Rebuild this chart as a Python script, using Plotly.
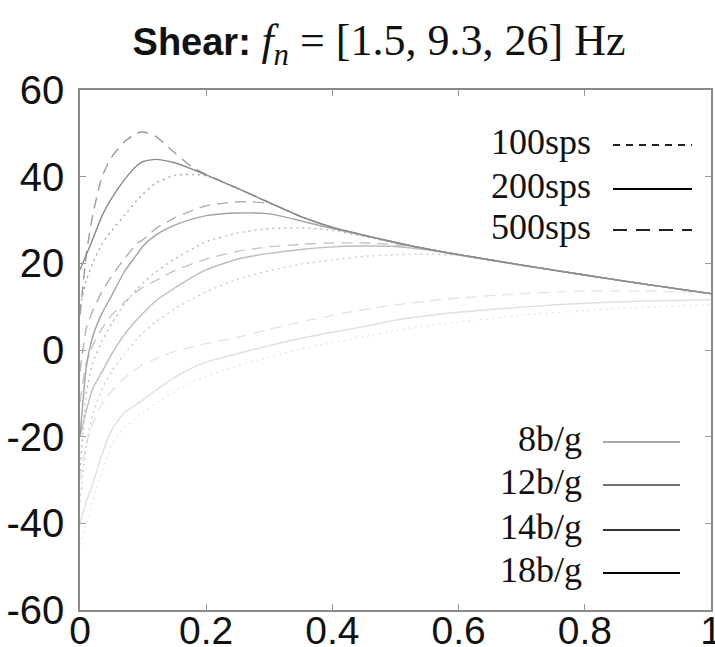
import plotly.graph_objects as go

# ---------------- data ----------------
X = [0, 0.01, 0.02, 0.035, 0.05, 0.07, 0.09, 0.1, 0.12, 0.15, 0.18, 0.2,
     0.25, 0.3, 0.35, 0.4, 0.45, 0.5, 0.55, 0.6, 0.7, 0.8, 0.9, 1.0]

# 18b/g
A_500 = [8, 22, 31, 40, 44.5, 48, 50, 50.3, 49.3, 45.5, 42, 40.5, 37.3, 34, 30.8, 28.3, 26.5, 24.8, 23.3, 22, 19.6, 17.3, 15.1, 13]
A_200 = [18.5, 22, 25.5, 31, 35, 39.2, 42.5, 43.5, 44, 43.2, 41.6, 40.4, 37.3, 34, 30.8, 28.3, 26.5, 24.8, 23.3, 22, 19.6, 17.3, 15.1, 13]
A_100 = [10, 16, 20, 24.5, 27.5, 31, 34.5, 36, 38.5, 40.3, 40.5, 40.2, 37.2, 34, 30.8, 28.3, 26.5, 24.8, 23.3, 22, 19.6, 17.3, 15.1, 13]
# 14b/g
B_500 = [-5, 5, 9, 13.5, 17, 21, 24.5, 25.5, 28, 30.5, 32.3, 33.3, 34.2, 33.8, 30.8, 28.3, 26.5, 24.8, 23.3, 22, 19.6, 17.3, 15.1, 13]
B_200 = [-20, -4, 3, 8.5, 12.5, 18, 22, 24, 26.5, 28.8, 30.3, 31, 31.6, 31.4, 29.8, 28, 26.4, 24.8, 23.3, 22, 19.6, 17.3, 15.1, 13]
B_100 = [-28, -10, -3, 2, 6, 10.5, 14, 15.5, 18, 21, 23.5, 25, 27, 28, 28.2, 27.6, 26.2, 24.7, 23.3, 22, 19.6, 17.3, 15.1, 13]
# 12b/g
C_500 = [-12, -3, 1, 5, 8, 11, 13.5, 14.5, 16, 18.3, 20, 21, 22.8, 23.8, 24.4, 24.7, 24.7, 24.3, 23.2, 22, 19.6, 17.3, 15.1, 13]
C_200 = [-20, -14, -9, -5, -1, 3.5, 7, 8.5, 11.3, 14.3, 17, 18.5, 21, 22.3, 23.2, 23.8, 24, 23.9, 23.1, 21.9, 19.6, 17.3, 15.1, 13]
C_100 = [-35, -22, -15, -9, -5, -1, 2.5, 4, 6.5, 9.5, 12, 13.5, 16.3, 18.3, 19.8, 20.8, 21.6, 22, 22.1, 21.8, 19.5, 17.3, 15.1, 13]
# 8b/g
D_500 = [-30, -22, -17, -12.5, -9.5, -6.5, -4.3, -3.4, -2, -0.3, 0.8, 1.5, 2.9, 4.8, 6.5, 8, 9.3, 10.4, 11.3, 12, 13, 13.6, 13.6, 13.1]
D_200 = [-40, -35, -31, -24, -18.5, -14.5, -12.5, -11.5, -9.3, -6.3, -4, -2.8, -0.8, 1, 2.7, 4.1, 5.4, 6.9, 7.9, 8.7, 9.9, 10.8, 11.3, 11.6]
D_100 = [-45, -40, -35, -28, -22, -18, -15.5, -14.5, -12.3, -9.5, -7.3, -6, -3.6, -1.6, 0.2, 1.7, 3.1, 4.5, 5.6, 6.5, 8, 9.1, 9.9, 10.4]

RATES = ["100sps", "200sps", "500sps"]
BITS = ["8b/g", "12b/g", "14b/g", "18b/g"]
X_TICKS = [0, 0.2, 0.4, 0.6, 0.8, 1]
X_TICK_LABELS = ["0", "0.2", "0.4", "0.6", "0.8", "1"]
Y_TICKS = [-60, -40, -20, 0, 20, 40, 60]
Y_TICK_LABELS = ["-60", "-40", "-20", "0", "20", "40", "60"]

# ---------------- styles ----------------
DASH = {"100sps": "2px,4px", "200sps": "solid", "500sps": "11px,7px"}
CURVE_COL = {"8b/g": "#d9d9d9", "12b/g": "#bdbdbd", "14b/g": "#a3a3a3", "18b/g": "#8a8a8a"}
RATE_FADE = {"100sps": 0.75, "200sps": 1.0, "500sps": 0.85}
LEG_COL = {"8b/g": "#a8a8a8", "12b/g": "#707070", "14b/g": "#333333", "18b/g": "#000000"}

series = {
    "8b/g": {"100sps": D_100, "200sps": D_200, "500sps": D_500},
    "12b/g": {"100sps": C_100, "200sps": C_200, "500sps": C_500},
    "14b/g": {"100sps": B_100, "200sps": B_200, "500sps": B_500},
    "18b/g": {"100sps": A_100, "200sps": A_200, "500sps": A_500},
}

fig = go.Figure()
for r in ["100sps", "500sps", "200sps"]:
    for b in BITS:
        fig.add_trace(go.Scatter(
            x=X, y=series[b][r], mode="lines", name=f"{b} {r}",
            opacity=RATE_FADE[r] if b != "8b/g" else RATE_FADE[r] * 0.8,
            line=dict(color=CURVE_COL[b], width=1.4, dash=DASH[r], shape="spline", smoothing=0.6),
            showlegend=False, hoverinfo="skip"))

# ---------------- layout ----------------
W, H = 715, 647
L, R, T, B = 80, 4, 90, 37


def xp(px):
    return (px - L) / (W - L - R)


def yp(py):
    return (H - B - py) / (H - T - B)


serif = "Liberation Serif, Times New Roman, serif"
sans = "Liberation Sans, Arial, sans-serif"

annotations = []
shapes = []
top_leg = [("100sps", 145, "7px,6px", "#222"), ("200sps", 189, "solid", "#000"),
           ("500sps", 230, "14px,9px", "#222")]
for txt, py, dash, col in top_leg:
    annotations.append(dict(text=txt, x=xp(593), y=yp(py - 3), xref="paper", yref="paper",
                            xanchor="right", yanchor="middle", showarrow=False,
                            font=dict(family=serif, size=36, color="#111")))
    shapes.append(dict(type="line", xref="paper", yref="paper", x0=xp(613), x1=xp(692),
                       y0=yp(py), y1=yp(py), line=dict(color=col, width=2, dash=dash)))

bot_leg = [("8b/g", 442), ("12b/g", 485), ("14b/g", 530), ("18b/g", 573)]
for txt, py in bot_leg:
    annotations.append(dict(text=txt, x=xp(584), y=yp(py - 3), xref="paper", yref="paper",
                            xanchor="right", yanchor="middle", showarrow=False,
                            font=dict(family=serif, size=36, color="#111")))
    shapes.append(dict(type="line", xref="paper", yref="paper", x0=xp(603), x1=xp(680),
                       y0=yp(py), y1=yp(py), line=dict(color=LEG_COL[txt], width=2)))

title_text = ("<b>Shear:</b> <span style='font-family:Liberation Serif, Times New Roman, serif;font-size:44px'>"
              "<i>f</i><sub><i>n</i></sub> = [1.5, 9.3, 26] Hz</span>")

fig.update_layout(
    width=W, height=H,
    margin=dict(l=L, r=R, t=T, b=B, pad=0, autoexpand=False),
    paper_bgcolor="white", plot_bgcolor="white",
    title=dict(text=title_text, x=(133 + 625) / 2 / W, xanchor="center", xref="container",
               y=1 - 42 / H, yanchor="middle", yref="container",
               font=dict(family=sans, size=38, color="#111")),
    annotations=annotations, shapes=shapes,
    xaxis=dict(range=[0, 1], tickvals=X_TICKS, ticktext=X_TICK_LABELS,
               showgrid=False, zeroline=False, showline=True, mirror="ticks",
               linecolor="#8a8a8a", linewidth=1.5, ticks="inside", ticklen=6,
               tickcolor="#9a9a9a", tickwidth=1, ticklabelstandoff=-15,
               ticklabeloverflow="allow", automargin=False,
               tickfont=dict(family=sans, size=39, color="#111")),
    yaxis=dict(range=[-60, 60], tickvals=Y_TICKS, ticktext=Y_TICK_LABELS,
               showgrid=False, zeroline=False, showline=True, mirror="ticks",
               linecolor="#8a8a8a", linewidth=1.5, ticks="inside", ticklen=6,
               tickcolor="#9a9a9a", tickwidth=1, ticklabelstandoff=6,
               ticklabeloverflow="allow", automargin=False,
               tickfont=dict(family=sans, size=40, color="#111")),
)

fig.write_html("out.html")
